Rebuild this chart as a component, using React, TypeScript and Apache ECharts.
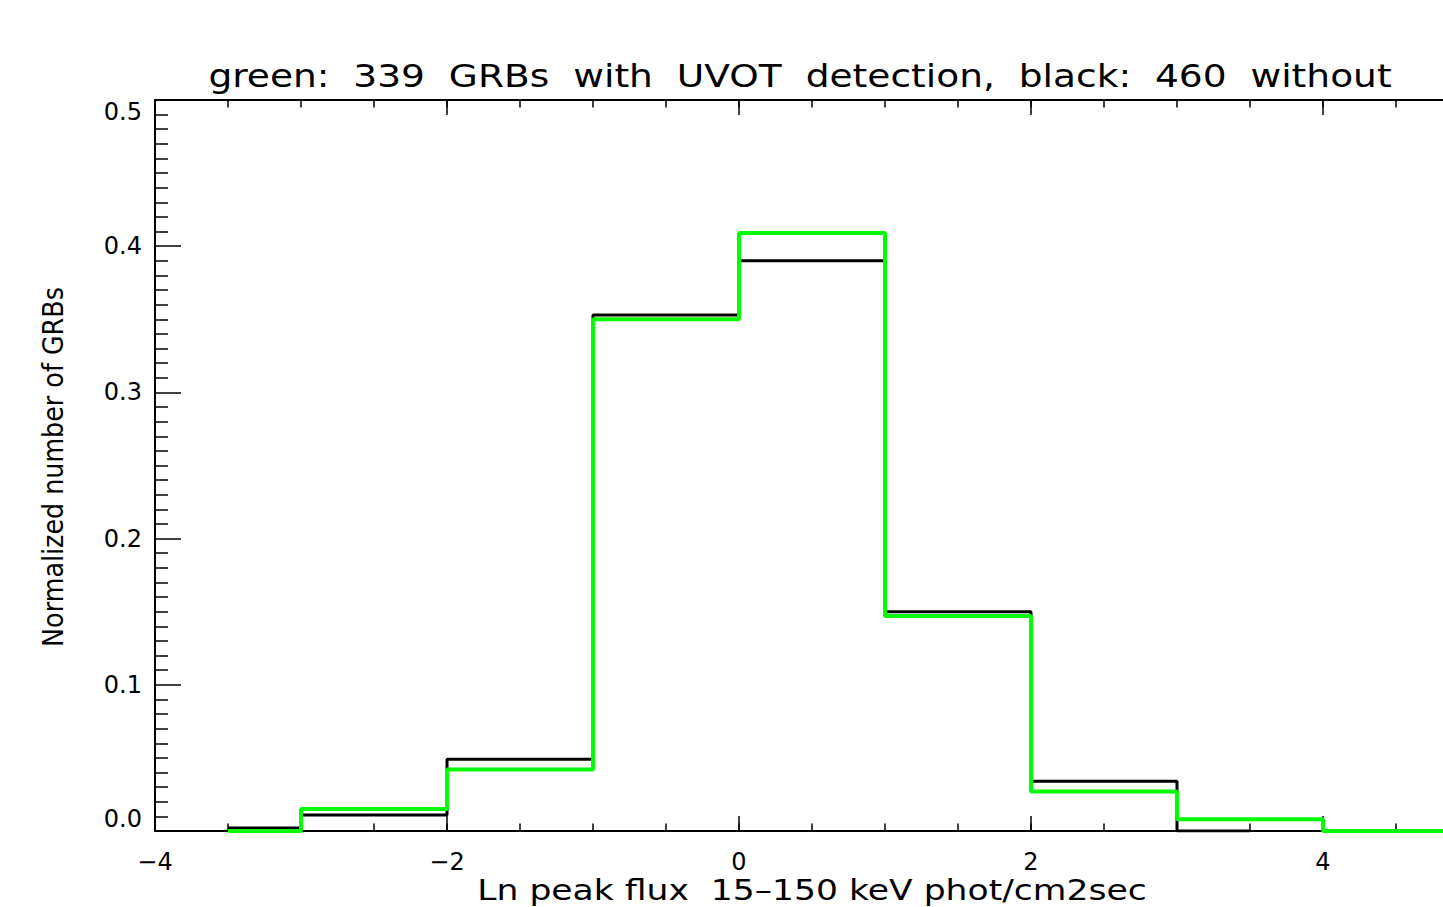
import React, { useEffect, useRef } from "react";
import * as echarts from "echarts";

// Histogram step points (IDL psym=10 style: steps halfway between points)
const binCenters = [-3.5, -2.5, -1.5, -0.5, 0.5, 1.5, 2.5, 3.5, 4.5, 5.5];
const blackValues = [0.002, 0.011, 0.049, 0.353, 0.39, 0.15, 0.034, 0.0];
const greenValues = [0.0, 0.015, 0.042, 0.35, 0.409, 0.147, 0.027, 0.008, 0.0, 0.0];

const xMin = -4;
const xMax = 5;
const xMajor = 2;
const xMinor = 0.5;
const yMin = 0;
const yMax = 0.5;
const yMajor = 0.1;

const titleText = "green:  339  GRBs  with  UVOT  detection,  black:  460  without";
const xName = "Ln peak flux  15–150 keV phot/cm2sec";
const yName = "Normalized number of GRBs";

const FONT = '"DejaVu Sans", "Liberation Sans", sans-serif';

function measure(text: string, size: number): number {
  const ctx = document.createElement("canvas").getContext("2d");
  if (!ctx) return text.length * size * 0.6;
  ctx.font = `${size}px "DejaVu Sans"`;
  return ctx.measureText(text).width;
}

function stretchedText(
  text: string,
  size: number,
  targetWidth: number,
  x: number,
  y: number,
  rotation = 0
) {
  const w = measure(text, size);
  return {
    type: "text",
    x,
    y,
    rotation,
    scaleX: targetWidth / w,
    silent: true,
    style: {
      text,
      fontSize: size,
      fontFamily: FONT,
      fill: "#000",
      align: "center",
      verticalAlign: "middle",
    },
  };
}

export default function App() {
  const ref = useRef<HTMLDivElement>(null);

  useEffect(() => {
    if (!ref.current) return;
    const chart = echarts.init(ref.current, undefined, { renderer: "svg" });

    const gridPos = { left: 155, top: 100, width: 1314, height: 731 };
    const lineStyle = { color: "#000", width: 2 };
    const labelStyle = { fontFamily: FONT, fontSize: 24, color: "#000" };
    const tickLine = { color: "#000", width: 1.5 };

    const fmtX = (v: number) => {
      const s = String(Math.round(v));
      return s.startsWith("-") ? "\u2212" + s.slice(1) : s;
    };

    const option: any = {
      animation: false,
      backgroundColor: "#fff",
      grid: [
        { ...gridPos, containLabel: false },
        { ...gridPos, containLabel: false },
      ],
      xAxis: [
        {
          type: "value",
          gridIndex: 0,
          position: "bottom",
          min: xMin,
          max: xMax,
          interval: xMajor,
          axisLine: { show: true, onZero: false, lineStyle },
          axisTick: { show: true, inside: true, length: 15, lineStyle: tickLine },
          axisLabel: { ...labelStyle, margin: 19, formatter: fmtX, showMaxLabel: false },
          splitLine: { show: false },
        },
        {
          type: "value",
          gridIndex: 0,
          position: "top",
          min: xMin,
          max: xMax,
          interval: xMajor,
          axisLine: { show: true, onZero: false, lineStyle },
          axisTick: { show: true, inside: true, length: 15, lineStyle: tickLine },
          axisLabel: { show: false },
          splitLine: { show: false },
        },
        {
          type: "value",
          gridIndex: 1,
          position: "bottom",
          min: xMin,
          max: xMax,
          interval: xMinor,
          axisLine: { show: false, onZero: false },
          axisTick: { show: true, inside: true, length: 7.5, lineStyle: tickLine },
          axisLabel: { show: false },
          splitLine: { show: false },
        },
        {
          type: "value",
          gridIndex: 1,
          position: "top",
          min: xMin,
          max: xMax,
          interval: xMinor,
          axisLine: { show: false, onZero: false },
          axisTick: { show: true, inside: true, length: 7.5, lineStyle: tickLine },
          axisLabel: { show: false },
          splitLine: { show: false },
        },
      ],
      yAxis: [
        {
          type: "value",
          gridIndex: 0,
          position: "left",
          min: yMin,
          max: yMax,
          interval: yMajor,
          axisLine: { show: true, onZero: false, lineStyle },
          axisTick: { show: true, inside: true, length: 26, lineStyle: tickLine },
          minorTick: { show: true, splitNumber: 10, length: 13, lineStyle: tickLine },
          axisLabel: {
            ...labelStyle,
            margin: 13,
            formatter: (v: number) => v.toFixed(1),
            verticalAlignMinLabel: "bottom",
            verticalAlignMaxLabel: "top",
          },
          splitLine: { show: false },
          minorSplitLine: { show: false },
        },
        {
          type: "value",
          gridIndex: 0,
          position: "right",
          min: yMin,
          max: yMax,
          interval: yMajor,
          axisLine: { show: true, onZero: false, lineStyle },
          axisTick: { show: true, inside: true, length: 26, lineStyle: tickLine },
          minorTick: { show: true, splitNumber: 10, length: 13, lineStyle: tickLine },
          axisLabel: { show: false },
          splitLine: { show: false },
          minorSplitLine: { show: false },
        },
        {
          type: "value",
          gridIndex: 1,
          min: yMin,
          max: yMax,
          show: false,
        },
      ],
      series: [
        {
          name: "without UVOT detection",
          type: "line",
          xAxisIndex: 0,
          yAxisIndex: 0,
          step: "middle",
          symbol: "none",
          clip: true,
          lineStyle: { color: "#000", width: 3 },
          data: blackValues.map((v, i) => [binCenters[i], v]),
        },
        {
          name: "with UVOT detection",
          type: "line",
          xAxisIndex: 0,
          yAxisIndex: 0,
          step: "middle",
          symbol: "none",
          clip: true,
          lineStyle: { color: "#00ff00", width: 4 },
          data: greenValues.map((v, i) => [binCenters[i], v]),
        },
      ],
      graphic: [
        stretchedText(titleText, 32, 1184, 800, 76),
        stretchedText(xName, 29, 670, 812, 890),
        stretchedText(yName, 29, 360, 53, 467, Math.PI / 2),
      ],
    };

    chart.setOption(option);
    return () => chart.dispose();
  }, []);

  return (
    <div
      style={{
        position: "absolute",
        left: 0,
        top: 0,
        width: 1443,
        height: 907,
        overflow: "hidden",
        background: "#fff",
      }}
    >
      <div ref={ref} style={{ width: 1480, height: 907 }} />
    </div>
  );
}
